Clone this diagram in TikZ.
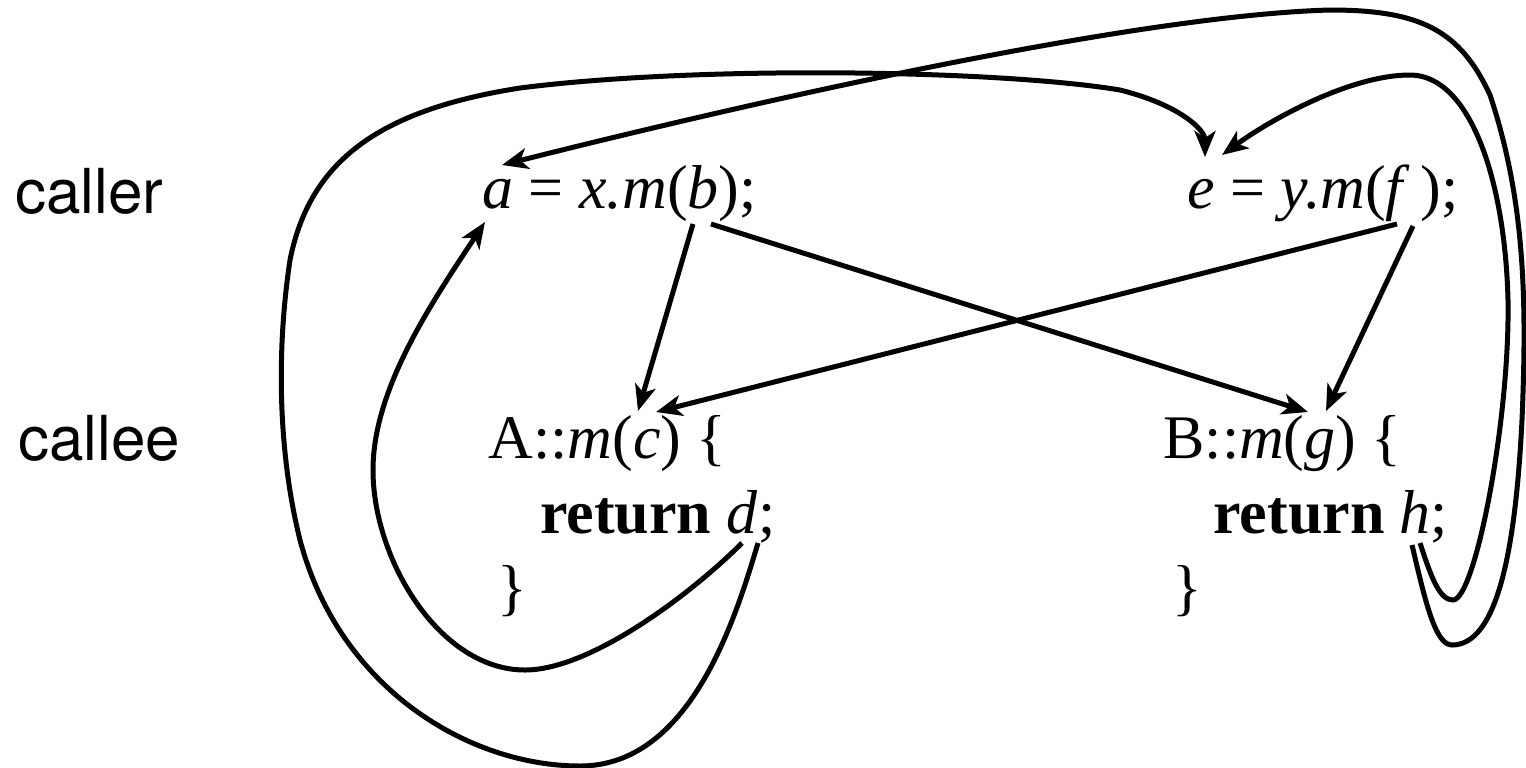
\documentclass[tikz,border=0pt]{standalone}
\usepackage{fontspec}
\setmainfont{Liberation Serif}
\newfontfamily\hv{TeX Gyre Heros}
\usetikzlibrary{arrows.meta}
\begin{document}
\begin{tikzpicture}[x=0.5pt,y=-0.5pt,
  conn/.style={line width=2.5pt,-{Stealth[length=13pt,width=10.5pt,inset=3.5pt]}},
  code/.style={anchor=base west,inner sep=0pt,font=\fontsize{31}{37}\selectfont},
  lab/.style={anchor=base west,inner sep=0pt,font=\hv\fontsize{31}{37}\selectfont}]
\useasboundingbox (0,0) rectangle (1526,767);
% labels
\node[lab] (caller) at (15,213) {caller};
\node[lab] (callee) at (18,460) {callee};
% code
\node[code] (callA) at (482,208) {\textit{a} = \textit{x.m}(\textit{b});};
\node[code] (callB) at (1187,208) {\textit{e} = \textit{y.m}(\textit{f}\,);};
\node[code] (defA1) at (488,458) {A::\textit{m}(\textit{c}) \{};
\node[code] (defA2) at (540,533) {\textbf{return} \textit{d};};
\node[code] (defA3) at (497,608) {\}};
\node[code] (defB1) at (1163,458) {B::\textit{m}(\textit{g}) \{};
\node[code] (defB2) at (1213,533) {\textbf{return} \textit{h};};
\node[code] (defB3) at (1172,608) {\}};
% endpoints
\coordinate (bL) at (693,224);
\coordinate (bR) at (711,224);
\coordinate (fL) at (1397,224);
\coordinate (fR) at (1413,226);
\coordinate (cL) at (638,411);
\coordinate (cR) at (656,412);
\coordinate (gL) at (1308,412);
\coordinate (gR) at (1326,411);
\coordinate (dL) at (742,543);
\coordinate (dR) at (758,543);
\coordinate (hL) at (1412,545);
\coordinate (hR) at (1420,543);
\coordinate (aB) at (485,222);
\coordinate (aT) at (502,165);
\coordinate (eL) at (1205,157);
\coordinate (eR) at (1222,155);
% straight calls
\draw[conn] (bL) -- (cL);
\draw[conn] (bR) -- (gL);
\draw[conn] (fL) -- (cR);
\draw[conn] (fR) -- (gR);
% return d -> a
\draw[conn] (dL) .. controls (690,595) and (590,670) .. (525,670)
  .. controls (440,670) and (373,560) .. (373,470)
  .. controls (373,390) and (430,305) .. (aB);
% return d -> e
\draw[conn] (dR) .. controls (735,620) and (690,766) .. (580,766)
  .. controls (470,766) and (340,690) .. (300,540)
  .. controls (280,460) and (275,360) .. (290,260)
  .. controls (310,160) and (380,110) .. (520,88)
  .. controls (700,65) and (1000,70) .. (1120,90)
  .. controls (1180,105) and (1205,130) .. (eL);
% return h -> a
\draw[conn] (hL) .. controls (1425,600) and (1435,645) .. (1452,645)
  .. controls (1495,645) and (1515,560) .. (1522,420)
  .. controls (1527,300) and (1525,200) .. (1490,95)
  .. controls (1460,30) and (1420,10) .. (1330,10)
  .. controls (1150,15) and (800,90) .. (aT);
% return h -> e
\draw[conn] (hR) .. controls (1432,580) and (1440,600) .. (1453,600)
  .. controls (1475,600) and (1510,420) .. (1508,300)
  .. controls (1505,180) and (1470,75) .. (1410,75)
  .. controls (1350,75) and (1270,120) .. (eR);
\end{tikzpicture}
\end{document}
